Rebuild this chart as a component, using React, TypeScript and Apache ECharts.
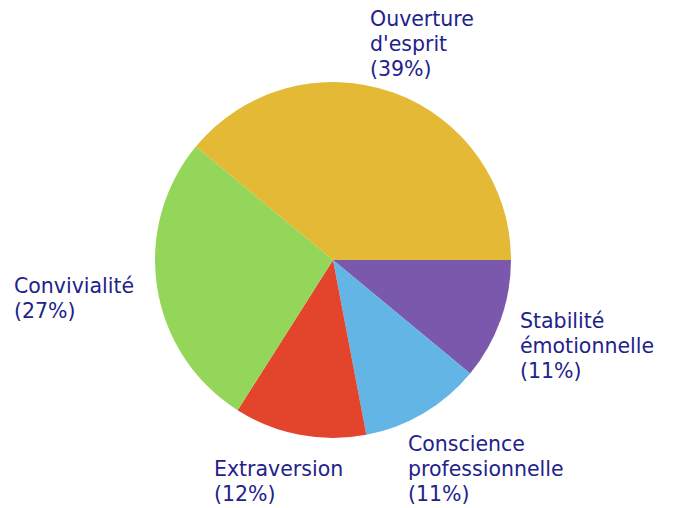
import React, { useEffect, useRef } from "react";
import * as echarts from "echarts";

const categories = [
  "Stabilité\némotionnelle",
  "Conscience\nprofessionnelle",
  "Extraversion",
  "Convivialité",
  "Ouverture\nd'esprit",
];
const values = [11, 11, 12, 27, 39];
const colors = ["#7A58AB", "#62B5E5", "#E2452B", "#93D65A", "#E4B935"];
// label anchor (left x, vertical middle y) per slice
const labelPos: [number, number][] = [
  [520, 346],
  [408, 469],
  [214, 481],
  [14, 298],
  [370, 44],
];

export default function App() {
  const ref = useRef<HTMLDivElement>(null);
  useEffect(() => {
    if (!ref.current) return;
    const chart = echarts.init(ref.current, undefined, { renderer: "svg" });
    chart.setOption({
      animation: false,
      series: [
        {
          type: "pie",
          center: [333, 260],
          radius: 178,
          startAngle: 0,
          clockwise: true,
          avoidLabelOverlap: false,
          data: categories.map((c, i) => ({
            name: c,
            value: values[i],
            itemStyle: { color: colors[i] },
          })),
          label: {
            show: true,
            position: "outside",
            formatter: "{b}\n({d}%)",
            color: "#22228B",
            fontFamily: "DejaVu Sans",
            fontSize: 20.5,
            lineHeight: 25,
            align: "left",
            overflow: "none",
            width: 300,
          },
          labelLine: { show: false },
          labelLayout: (p: any) => {
            const pos = labelPos[p.dataIndex];
            return { x: pos[0], y: pos[1], align: "left", verticalAlign: "middle" };
          },
          emphasis: { disabled: true },
        },
      ],
    });
    return () => chart.dispose();
  }, []);
  return (
    <div
      ref={ref}
      style={{ position: "fixed", left: 0, top: 0, width: 673, height: 508, background: "#fff" }}
    />
  );
}
